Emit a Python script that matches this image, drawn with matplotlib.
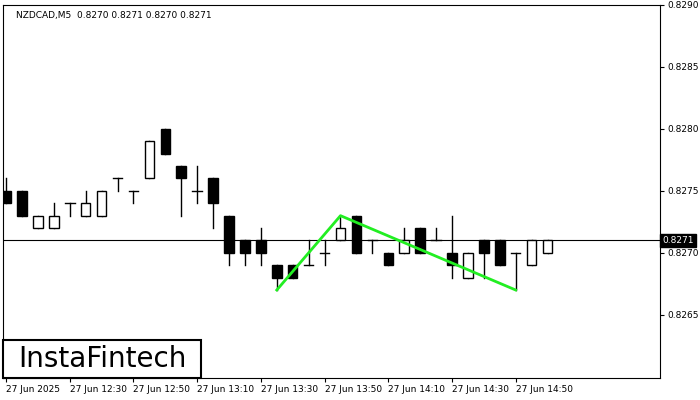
import matplotlib
matplotlib.use("Agg")
import matplotlib.pyplot as plt
from matplotlib.patches import Rectangle

opens  = [.8275,.8275,.8272,.8272,.8274,.8273,.8273,.8276,.8275,.8276,.8280,.8277,.8275,.8276,.8273,.8271,.8271,.8269,.8269,.8269,.8270,.8271,.8273,.8271,.8270,.8270,.8272,.8271,.8270,.8268,.8271,.8271,.8270,.8269,.8270]
highs  = [.8276,.8275,.8273,.8274,.8274,.8275,.8275,.8276,.8275,.8279,.8280,.8277,.8277,.8276,.8273,.8271,.8272,.8269,.8269,.8271,.8271,.8273,.8273,.8271,.8270,.8272,.8272,.8272,.8273,.8270,.8271,.8271,.8270,.8271,.8271]
lows   = [.8274,.8273,.8272,.8272,.8273,.8273,.8273,.8275,.8274,.8276,.8278,.8273,.8274,.8272,.8269,.8269,.8269,.8267,.8268,.8269,.8269,.8271,.8270,.8270,.8269,.8270,.8270,.8271,.8268,.8268,.8268,.8269,.8267,.8269,.8270]
closes = [.8274,.8273,.8273,.8273,.8274,.8274,.8275,.8276,.8275,.8279,.8278,.8276,.8275,.8274,.8270,.8270,.8270,.8268,.8268,.8269,.8270,.8272,.8270,.8271,.8269,.8271,.8270,.8271,.8269,.8270,.8270,.8269,.8270,.8271,.8271]
pattern_idx = [17, 21, 32]
pattern_px = [.8267, .8273, .8267]
tick_idx = [0, 4, 8, 12, 16, 20, 24, 28, 32]
tick_labels = ["27 Jun 2025","27 Jun 12:30","27 Jun 12:50","27 Jun 13:10","27 Jun 13:30",
               "27 Jun 13:50","27 Jun 14:10","27 Jun 14:30","27 Jun 14:50"]
ytick_vals = [.8265,.8270,.8275,.8280,.8285,.8290]
last = .8271

fig = plt.figure(figsize=(7,4), dpi=100)
ax = fig.add_axes([3/700, 22/400, 657/700, 373/400])
w = 0.6
for i,(o,h,l,c) in enumerate(zip(opens,highs,lows,closes)):
    ax.plot([i,i],[l,h],color='black',lw=1,zorder=2)
    if c < o:
        ax.add_patch(Rectangle((i-w/2,c),w,o-c,facecolor='black',edgecolor='black',lw=1,zorder=3))
    elif c > o:
        ax.add_patch(Rectangle((i-w/2,o),w,c-o,facecolor='white',edgecolor='black',lw=1,zorder=3))
    else:
        ax.plot([i-w/2,i+w/2],[o,o],color='black',lw=1,zorder=3)
ax.axhline(last,color='black',lw=0.8,zorder=1)
ax.plot(pattern_idx,pattern_px,color='#22ee22',lw=2,zorder=4)
ax.set_xlim(-0.19, 41.06)
ax.set_ylim(0.82599, 0.8290)
ax.yaxis.tick_right()
ax.set_yticks(ytick_vals)
ax.set_yticklabels([f"{v:.4f}" for v in ytick_vals], fontsize=6.5)
ax.set_xticks(tick_idx)
ax.set_xticklabels(tick_labels, fontsize=6.5, ha='left')
ax.tick_params(length=3, pad=2)
ax.text(1.003, (last-0.82599)/(0.8290-0.82599), f"{last:.4f}", transform=ax.transAxes,
        fontsize=6.5, color='white', va='center', ha='left',
        bbox=dict(facecolor='black', edgecolor='black', pad=1.5))
ax.text(0.02, 0.985, "NZDCAD,M5  0.8270 0.8271 0.8270 0.8271", transform=ax.transAxes,
        fontsize=6.5, va='top', ha='left')
fig.add_artist(Rectangle((3/700, 1-378/400), 198/700, 38/400, transform=fig.transFigure,
                         facecolor='white', edgecolor='black', lw=1.5, zorder=5))
fig.text(102/700, 1-359/400, "InstaFintech", fontsize=20, va='center', ha='center', zorder=6)
fig.savefig("out.png", dpi=100)
